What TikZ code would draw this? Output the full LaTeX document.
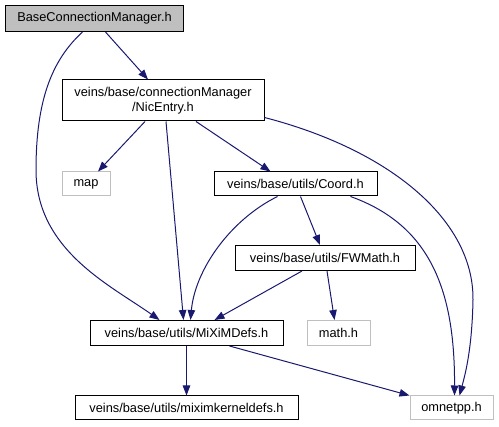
\documentclass[tikz,border=0pt]{standalone}
\usepackage{fontspec}
\setmainfont{Liberation Sans}
\usetikzlibrary{arrows.meta}
\definecolor{edgec}{HTML}{191970}
\definecolor{greyb}{HTML}{BFBFBF}
\tikzset{
  box/.style={draw=black,line width=1pt,inner sep=0pt,align=center,font=\fontsize{12.8}{15}\selectfont},
  gbox/.style={box,draw=greyb},
  dep/.style={draw=edgec,line width=1pt,-{Triangle[length=10pt,width=7.5pt]}},
}
\begin{document}
\begin{tikzpicture}[x=1pt,y=-1pt]
\useasboundingbox (0,0) rectangle (499,427);
\node[box,fill=greyb,minimum width=178pt,minimum height=26pt] (bcm) at (94.5,18.5) {BaseConnectionManager.h};
\node[box,minimum width=202pt,minimum height=41pt] (nic) at (163,100.5) {veins/base/connectionManager\\/NicEntry.h};
\node[gbox,minimum width=48pt,minimum height=24pt] (map) at (86,184) {map};
\node[box,minimum width=163pt,minimum height=24pt] (coord) at (295.5,184) {veins/base/utils/Coord.h};
\node[box,minimum width=180pt,minimum height=25pt] (fw) at (325,258) {veins/base/utils/FWMath.h};
\node[gbox,minimum width=63pt,minimum height=25pt] (math) at (338.5,333) {math.h};
\node[box,minimum width=193pt,minimum height=25pt] (mixim) at (186.5,333) {veins/base/utils/MiXiMDefs.h};
\node[box,minimum width=223pt,minimum height=24pt] (kern) at (186.5,408) {veins/base/utils/miximkerneldefs.h};
\node[gbox,minimum width=83pt,minimum height=24pt] (omn) at (451.5,408) {omnetpp.h};

\draw[dep] ([xshift=11pt]bcm.south) -- ([xshift=-15pt]nic.north);
\draw[dep] ([xshift=-12pt]bcm.south) .. controls (52,60) and (36,100) .. (36,170)
  .. controls (36,250) and (110,285) .. ([xshift=-27pt]mixim.north);
\draw[dep] ([xshift=-18pt]nic.south) -- ([xshift=12pt]map.north);
\draw[dep] ([xshift=3pt]nic.south) -- ([xshift=-3pt]mixim.north);
\draw[dep] ([xshift=33pt]nic.south) -- ([xshift=-25pt]coord.north);
\draw[dep] ([yshift=4pt]nic.south east) .. controls (390,150) and (474,220) .. (473,300)
  .. controls (472,350) and (465,375) .. ([xshift=8pt]omn.north);
\draw[dep] ([xshift=-18pt]coord.south) .. controls (230,220) and (195,270) .. ([xshift=4pt]mixim.north);
\draw[dep] ([xshift=5pt]coord.south) -- ([xshift=-5pt]fw.north);
\draw[dep] ([xshift=55pt]coord.south) .. controls (430,225) and (455,290) .. ([xshift=3pt]omn.north);
\draw[dep] ([xshift=-23pt]fw.south) -- ([xshift=28pt]mixim.north);
\draw[dep] ([xshift=2pt]fw.south) -- ([xshift=-4pt]math.north);
\draw[dep] (mixim.south) -- (kern.north);
\draw[dep] ([xshift=43pt]mixim.south) -- (omn.north west);
\end{tikzpicture}
\end{document}
